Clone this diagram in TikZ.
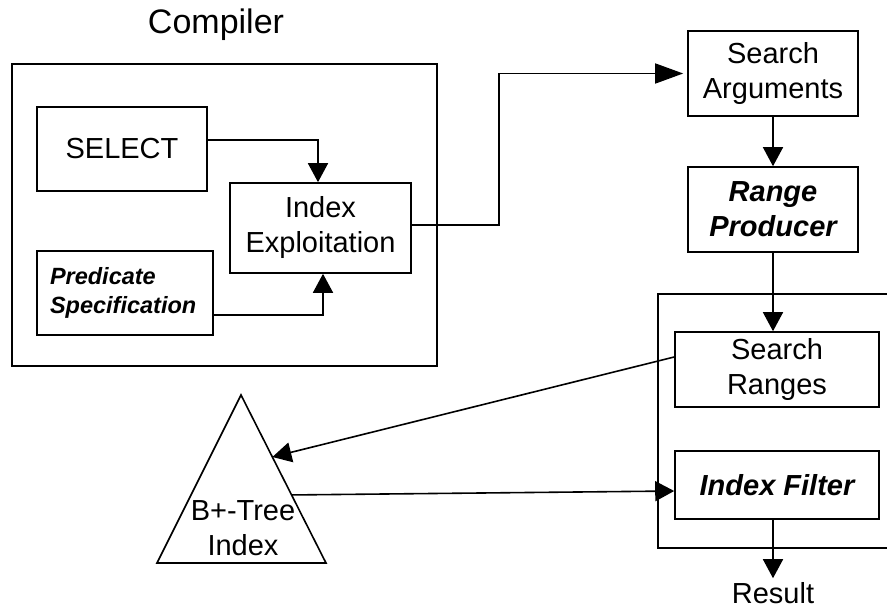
\documentclass[tikz,border=0pt]{standalone}
\usepackage{fontspec}
\setmainfont{Liberation Sans}
\usetikzlibrary{arrows.meta,calc}

\begin{document}
\begin{tikzpicture}[x=1pt,y=-1pt,
  line width=1.6pt,
  box/.style={draw,rectangle,inner sep=0pt,align=center,
    font=\fontsize{29}{35}\selectfont},
  plain/.style={align=center,font=\fontsize{29}{35}\selectfont},
  arr/.style={-{Triangle[length=19pt,width=20pt]}},
  longarr/.style={-{Triangle[length=28pt,width=20pt]},shorten >=4pt}]
\useasboundingbox (0,0) rectangle (887,615);

% Compiler frame and its title
\node[draw,rectangle,minimum width=425pt,minimum height=302pt] (comp) at (224.5,215) {};
\node[font=\fontsize{34}{40}\selectfont] (comptitle) at (216,25) {Compiler};

% Boxes inside the compiler
\node[box,minimum width=170pt,minimum height=84pt] (sel) at (122,149) {SELECT};
\node[box,minimum width=181pt,minimum height=90pt] (ie) at (320.5,228) {Index\\Exploitation};
\node[draw,rectangle,inner sep=0pt,minimum width=176pt,minimum height=84pt,
      align=left,font=\fontsize{23.5}{29}\selectfont\bfseries\itshape,
      text width=150pt] (pred) at (125,293) {Predicate\\Specification};

% Right-hand column
\node[box,minimum width=170pt,minimum height=85pt] (sa) at (773,73.5) {Search\\Arguments};
\node[box,minimum width=170pt,minimum height=85pt,font=\fontsize{29}{35}\selectfont\bfseries\itshape] (rp) at (773,209.5) {Range\\Producer};

% Executor frame (open to the right)
\coordinate (fr1) at (887,294);
\coordinate (fr2) at (658,294);
\coordinate (fr3) at (658,548);
\coordinate (fr4) at (887,548);
\draw (fr1) -- (fr2) -- (fr3) -- (fr4);

\node[box,minimum width=204pt,minimum height=75pt] (sr) at (777,369.5) {Search\\Ranges};
\node[box,minimum width=204pt,minimum height=68pt,font=\fontsize{29}{35}\selectfont\bfseries\itshape] (if) at (777,485) {Index Filter};
\node[plain] (res) at (773,593) {Result};

% B+-tree triangle
\coordinate (apex) at (241,395);
\coordinate (bl) at (157,563);
\coordinate (br) at (326,563);
\draw (apex) -- (bl) -- (br) -- cycle;
\node[plain] (tree) at (243,528) {B+-Tree\\Index};
\coordinate (tin) at ($(apex)!0.369!(br)$);
\coordinate (tout) at ($(apex)!0.595!(br)$);

% Connectors
\draw[arr] ([yshift=9pt]sel.east) -| ([xshift=-2.5pt]ie.north);
\draw[arr] ([yshift=-22pt]pred.east) -| ([xshift=2.5pt]ie.south);
\draw[longarr] ([yshift=3pt]ie.east) -- ++(87,0) |- (sa.west);
\draw[arr] (sa.south) -- (rp.north);
\draw[arr] (rp.south) -- (rp.south |- sr.north);
\draw[arr] ([yshift=12.5pt]sr.west) -- (tin);
\draw[arr] (tout) -- ([yshift=-6pt]if.west);
\draw[arr] (if.south -| res.north) -- (res.north);
\end{tikzpicture}
\end{document}
